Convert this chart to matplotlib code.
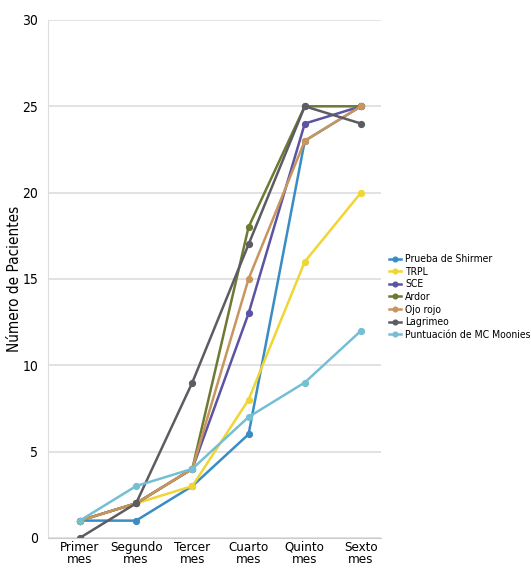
import matplotlib
matplotlib.use("Agg")
import matplotlib.pyplot as plt

plt.rcParams['font.family'] = ['DejaVu Sans']
plt.rcParams['font.stretch'] = 'condensed'

months = ["Primer\nmes", "Segundo\nmes", "Tercer\nmes", "Cuarto\nmes", "Quinto\nmes", "Sexto\nmes"]

shirmer = [1, 1, 3, 6, 23, 25]
trpl = [1, 2, 3, 8, 16, 20]
sce = [1, 2, 4, 13, 24, 25]
ardor = [1, 2, 4, 18, 25, 25]
ojo_rojo = [1, 2, 4, 15, 23, 25]
lagrimeo = [0, 2, 9, 17, 25, 24]
moonies = [1, 3, 4, 7, 9, 12]

series = [
    ("Prueba de Shirmer", shirmer, "#3a8cc4"),
    ("TRPL", trpl, "#f0d634"),
    ("SCE", sce, "#5b54a3"),
    ("Ardor", ardor, "#6e7a33"),
    ("Ojo rojo", ojo_rojo, "#c9955e"),
    ("Lagrimeo", lagrimeo, "#5c5c62"),
    ("Puntuación de MC Moonies", moonies, "#74bfd3"),
]

fig = plt.figure(figsize=(5.31, 5.71), dpi=100)
ax = fig.add_axes([0.090, 0.058, 0.628, 0.907])

x = range(len(months))
for name, vals, col in series:
    ax.plot(x, vals, color=col, lw=1.8, marker="o", ms=4.2, label=name)

ax.set_xlim(-0.57, 5.36)
ax.set_ylim(0, 30)
ax.set_yticks(range(0, 31, 5))
ax.set_xticks(list(x))
ax.set_xticklabels(months, fontsize=9.5, linespacing=0.95)
ax.tick_params(axis="y", labelsize=10, length=0, pad=7)
ax.tick_params(axis="x", length=0, pad=2)
ax.grid(axis="y", color="#dddddd", lw=1.2)
ax.set_axisbelow(True)
for s in ["top", "right"]:
    ax.spines[s].set_visible(False)
ax.spines["left"].set_color("#dddddd")
ax.spines["bottom"].set_color("#cccccc")
ax.set_ylabel("Número de Pacientes", fontsize=11, labelpad=0)

ax.legend(loc="center left", bbox_to_anchor=(1.0, 0.465), frameon=False,
          fontsize=7.5, handlelength=1.2, handletextpad=0.4, labelspacing=0.25,
          markerscale=0.8, borderaxespad=0.3)

fig.savefig("out.png", dpi=100)
